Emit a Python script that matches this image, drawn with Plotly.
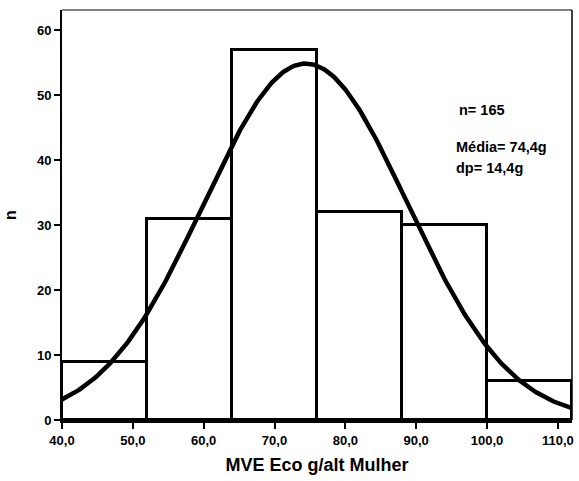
import numpy as np
import plotly.graph_objects as go

# Data
bin_starts = [40, 52, 64, 76, 88, 100]
bin_width = 12
counts = [9, 31, 57, 32, 30, 6]
n_total = 165
mean_val = 74.4
sd_val = 14.4
x_ticks = [40, 50, 60, 70, 80, 90, 100, 110]
y_ticks = [0, 10, 20, 30, 40, 50, 60]
stats_lines = ["n= 165", "Média= 74,4g", "dp= 14,4g"]

centers = [s + bin_width / 2 for s in bin_starts]
x_ticktext = ["<b>" + f"{v:.1f}".replace(".", ",") + "</b>" for v in x_ticks]
y_ticktext = ["<b>" + str(v) + "</b>" for v in y_ticks]

# Fitted normal curve (scaled to counts) from the stated n, mean, sd
xc = np.linspace(40, 112, 300)
yc = n_total * bin_width / (sd_val * np.sqrt(2 * np.pi)) * np.exp(-0.5 * ((xc - mean_val) / sd_val) ** 2)

fig = go.Figure()
fig.add_trace(go.Bar(
    x=centers, y=counts, width=[bin_width] * len(counts),
    marker=dict(color="white", line=dict(color="black", width=3)),
    hoverinfo="skip", showlegend=False,
))
fig.add_trace(go.Scatter(
    x=xc, y=yc, mode="lines", line=dict(color="black", width=4.5),
    hoverinfo="skip", showlegend=False,
))

font_family = "Liberation Sans, Arial, sans-serif"

fig.update_layout(
    width=579, height=481,
    margin=dict(l=62, r=5, t=10, b=61),
    paper_bgcolor="white", plot_bgcolor="white",
    font=dict(family=font_family, color="black", size=12),
    bargap=0,
    xaxis=dict(
        range=[40, 112], tickvals=x_ticks, ticktext=x_ticktext,
        showgrid=False, zeroline=False,
        showline=True, linecolor="black", linewidth=3,
        ticks="outside", ticklen=6, tickwidth=2, tickcolor="black",
        tickfont=dict(family=font_family, size=13, color="black"),
        title=dict(text="<b>MVE Eco g/alt Mulher</b>", font=dict(size=18, family=font_family), standoff=12),
    ),
    yaxis=dict(
        range=[0, 63.1], tickvals=y_ticks, ticktext=y_ticktext,
        showgrid=False, zeroline=False,
        showline=True, linecolor="black", linewidth=2,
        ticks="outside", ticklen=6, tickwidth=2, tickcolor="black",
        tickfont=dict(family=font_family, size=13, color="black"),
        title=dict(text="<b>n</b>", font=dict(size=16, family=font_family), standoff=16),
    ),
    shapes=[
        dict(type="line", xref="paper", yref="paper", x0=0, x1=1, y0=1, y1=1,
             line=dict(color="#808080", width=2)),
        dict(type="line", xref="paper", yref="paper", x0=1, x1=1, y0=0, y1=1,
             line=dict(color="black", width=1.5)),
    ],
)

ann_y = [110, 147, 168]
ann_x = [459, 456, 456]
for txt, yy, xx in zip(stats_lines, ann_y, ann_x):
    fig.add_annotation(
        text="<b>" + txt + "</b>", xref="paper", yref="paper",
        x=(xx - 62) / (574 - 62), y=(420 - yy) / (420 - 10),
        xanchor="left", yanchor="middle", showarrow=False,
        font=dict(family=font_family, size=14.5, color="black"),
    )

fig.write_html("out.html")
